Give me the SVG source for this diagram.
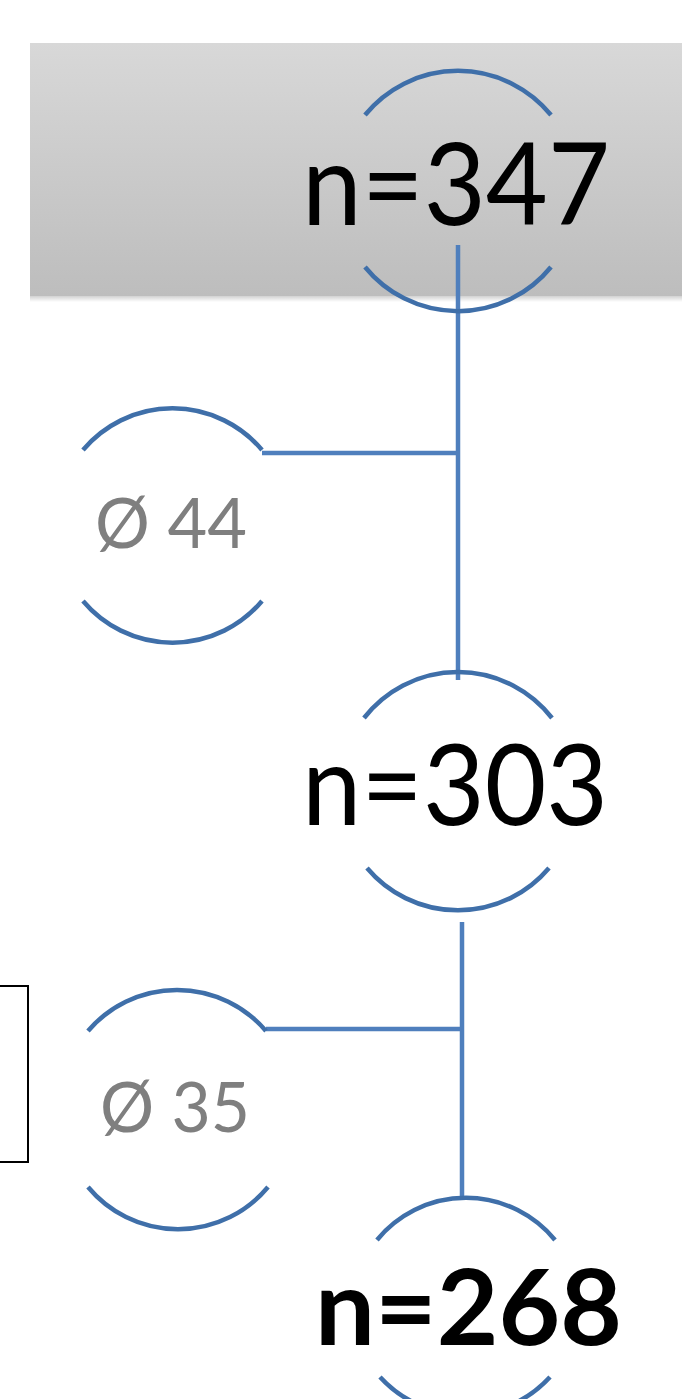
<svg xmlns="http://www.w3.org/2000/svg" width="682" height="1399" viewBox="0 0 682 1399">
<defs>
<linearGradient id="hdr" x1="0" y1="0" x2="0" y2="1">
<stop offset="0" stop-color="#d8d8d8"/>
<stop offset="1" stop-color="#bdbdbd"/>
</linearGradient>
<linearGradient id="shd" x1="0" y1="0" x2="0" y2="1">
<stop offset="0" stop-color="#000" stop-opacity="0.18"/>
<stop offset="1" stop-color="#000" stop-opacity="0"/>
</linearGradient>
</defs>
<style>
.arc{fill:none;stroke:#3f6fa9;stroke-width:4.5;}
.con{fill:none;stroke:#4f7fbd;stroke-width:4.5;}
.n{font-family:Lato,"Liberation Sans",Arial,sans-serif;fill:#000;}
.d{font-family:Lato,"Liberation Sans",Arial,sans-serif;fill:#7f7f7f;font-size:70px;}
</style>
<g id="header">
<rect x="30" y="43" width="660" height="253" fill="url(#hdr)"/>
<rect x="30" y="296" width="660" height="6" fill="url(#shd)"/>
</g>
<g id="left-box">
<rect x="-10" y="986" width="38" height="176" fill="none" stroke="#000" stroke-width="2"/>
</g>
<g id="connectors">
<line class="con" x1="458" y1="245" x2="458" y2="680"/>
<line class="con" x1="262" y1="453" x2="458" y2="453"/>
<line class="con" x1="462" y1="922" x2="462" y2="1198"/>
<line class="con" x1="266" y1="1029" x2="462" y2="1029"/>
</g>
<g id="node-347">
<path class="arc" d="M365,115 A120,120 0 0 1 551,115"/>
<path class="arc" d="M365,267 A120,120 0 0 0 551,267"/>
<text class="n" x="302" y="225" font-size="115" textLength="308" lengthAdjust="spacingAndGlyphs">n=347</text>
</g>
<g id="node-303">
<path class="arc" d="M364,718 A119,119 0 0 1 552,718"/>
<path class="arc" d="M367,868 A119,119 0 0 0 549,868"/>
<text class="n" x="302" y="825" font-size="112" textLength="306" lengthAdjust="spacingAndGlyphs">n=303</text>
</g>
<g id="node-268">
<path class="arc" d="M377,1240 A115,115 0 0 1 555,1240"/>
<path class="arc" d="M380,1377 A115,115 0 0 0 550,1377"/>
<text class="n" x="315" y="1345" font-size="105" font-weight="bold" textLength="307" lengthAdjust="spacingAndGlyphs">n=268</text>
</g>
<g id="node-d44">
<path class="arc" d="M83,450 A117,117 0 0 1 262,450"/>
<path class="arc" d="M83,601 A117,117 0 0 0 262,601"/>
<text class="d" x="95" y="548" textLength="152" lengthAdjust="spacingAndGlyphs">Ø 44</text>
</g>
<g id="node-d35">
<path class="arc" d="M88,1031 A117,117 0 0 1 266,1031"/>
<path class="arc" d="M88,1187 A117,117 0 0 0 268,1187"/>
<text class="d" x="100" y="1132" textLength="150" lengthAdjust="spacingAndGlyphs">Ø 35</text>
</g>
</svg>
